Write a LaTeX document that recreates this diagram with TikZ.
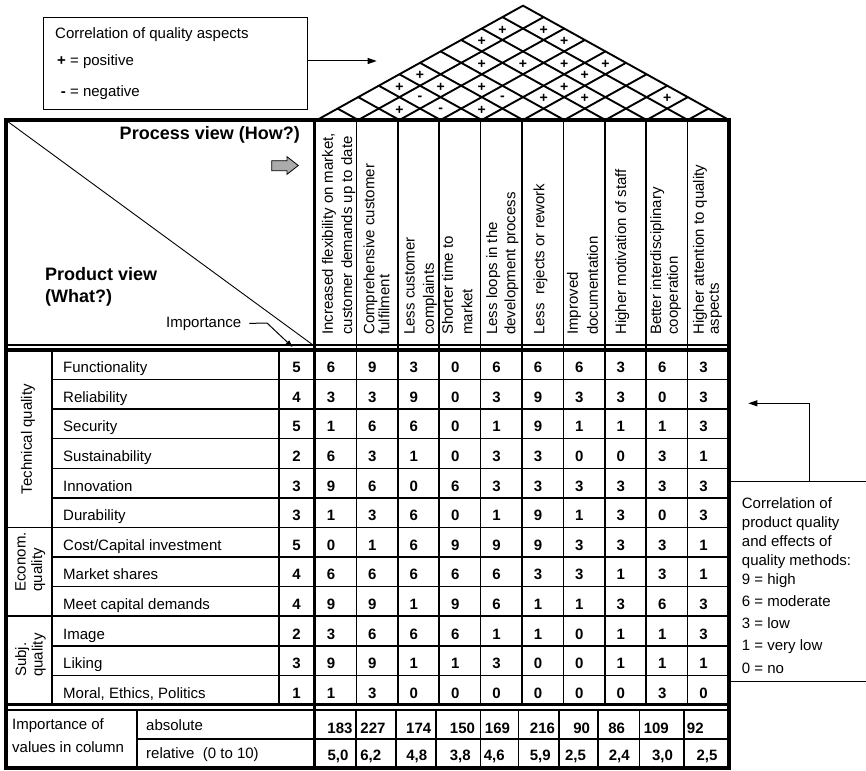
\documentclass[tikz,border=0pt]{standalone}
\usepackage{fontspec}
\setmainfont{Liberation Sans}
\usetikzlibrary{arrows.meta}

% 15pt Arial-metric text with a chosen line spacing
\newcommand{\fsz}[1]{\fontsize{15}{#1}\selectfont}

\begin{document}
\begin{tikzpicture}[x=1pt,y=-1pt,
  txt/.style={inner sep=0pt, font=\fsz{18}},
  lbl/.style={txt, anchor=base west},
  num/.style={inner sep=0pt, font=\fsz{18}\bfseries, anchor=base},
  bigbold/.style={inner sep=0pt, font=\fontsize{18}{22}\selectfont\bfseries},
  colhead/.style={inner sep=0pt, rotate=90, anchor=north west, align=left, font=\fsz{#1}},
  grouplbl/.style={inner sep=0pt, rotate=90, anchor=north west, align=left, font=\fsz{16.5}},
  corrsign/.style={inner sep=0pt, font=\fontsize{14}{16}\selectfont\bfseries},
  gridrule/.style={line width=1.5pt},
  heavyrule/.style={line width=3.6pt},
  roofrule/.style={line width=1.9pt, line cap=round, line join=round},
  pointer/.style={line width=1pt, -{Triangle[length=9pt,width=6pt]}},
]
\fill[white] (0,0) rectangle (866,770);
\useasboundingbox (0,0) rectangle (866,770);

% ---------- roof: correlations between the quality methods ----------
\foreach \k in {0,...,9} {
  \pgfmathsetmacro\bx{317+41.2*\k}
  \pgfmathsetmacro\ex{(\bx+729)/2}
  \pgfmathsetmacro\ey{120-0.555*(729-\bx)/2}
  \draw[roofrule] (\bx,120) -- (\ex,\ey);
}
\foreach \k in {1,...,10} {
  \pgfmathsetmacro\bx{317+41.2*\k}
  \pgfmathsetmacro\ex{(\bx+317)/2}
  \pgfmathsetmacro\ey{120-0.555*(\bx-317)/2}
  \draw[roofrule] (\bx,120) -- (\ex,\ey);
}
% sign in the rhombus shared by columns k and m
\foreach \k/\m/\s [count=\n] in {
  0/8/+, 1/9/+, 0/7/+, 2/9/+, 1/6/+, 2/7/+, 3/8/+, 4/9/+,
  0/4/+, 4/8/+, 0/3/+, 1/4/+, 2/5/+, 4/7/+, 1/3/-, 3/5/-,
  4/6/+, 5/7/+, 7/9/+, 1/2/+, 2/3/-, 3/4/+} {
  \pgfmathsetmacro\cx{317+20.6*(\k+\m+1)}
  \pgfmathsetmacro\cy{120-11.433*(\m-\k)+1.5}
  \node[corrsign] (sign\n) at (\cx,\cy) {\s};
}

% ---------- legend for the roof ----------
\node[draw, line width=1.1pt, inner sep=0pt, minimum width=264pt,
      minimum height=92.6pt, anchor=north west] (legendbox) at (42.7,16.7) {};
\node[lbl] (legtitle) at (55,39) {Correlation of quality aspects};
\node[lbl] (legpos) at (57,66) {\textbf{+} = positive};
\node[lbl] (legneg) at (57,97) {\makebox[0.584em][r]{\textbf{-}} = negative};
\coordinate (legtip) at (376.7,61);
\draw[pointer] (legendbox.east |- legtip) -- (legtip);

% ---------- table frame and rules ----------
\draw[heavyrule] (6,120) rectangle (729,768);
\draw[heavyrule] (314.5,120) -- (314.5,768);
\draw[gridrule] (6,345) -- (729,345);
\draw[heavyrule] (6,350) -- (729,350);
\draw[heavyrule] (6,704.5) -- (729,704.5);
\draw[line width=2pt] (6,709.5) -- (729,709.5);

% columns of the quality methods
\foreach \j in {1,...,9}
  \draw[gridrule] ({315+41.4*\j},120) -- ({315+41.4*\j},704.5);
% group and importance columns
\draw[gridrule] (52,350) -- (52,704.5);
\draw[gridrule] (279,350) -- (279,704.5);
% product-quality rows
\foreach \i in {1,...,11} {
  \pgfmathsetmacro\ry{350+29.58*\i}
  \ifnum\i=6 \def\rx{6}\else\ifnum\i=9 \def\rx{6}\else\def\rx{52}\fi\fi
  \draw[gridrule] (\rx,\ry) -- (729,\ry);
}

% ---------- corner cell ----------
\draw[line width=0.9pt] (7,121) -- (313,345);
\node[bigbold, anchor=base east] (howtitle) at (300,140) {Process view (How?)};
\filldraw[fill=black!33, line width=0.8pt, line join=miter]
  (271.7,160.7) -- (287,160.7) -- (287,156.7) -- (298.3,165.5)
  -- (287,174.3) -- (287,170.7) -- (271.7,170.7) -- cycle;
\node[bigbold, anchor=base west] (whattitle) at (45,280) {Product view};
\node[bigbold, anchor=base west] (whatq) at (45,302) {(What?)};
\node[lbl] (imptxt) at (166,327) {Importance};
\coordinate (impbend) at (267,323);
\coordinate (imptip) at (292.5,347);
\draw[line width=1pt, -{Triangle[length=7pt,width=5pt]}]
  ([xshift=8pt]imptxt.east) -- (impbend) -- (imptip);

% ---------- column headings (quality methods) ----------
\foreach \hx/\ls/\htxt [count=\j from 0] in {
  321.7/19.3/{Increased flexibility on market,\\customer demands up to date},
  363.3/15/{Comprehensive customer\\fulfilment},
  404/19.3/{Less customer\\complaints},
  441.7/19.5/{Shorter time to\\market},
  486/18.3/{Less loops in the\\development process},
  533.3/15/{Less~ rejects or rework},
  566.7/20/{Improved\\documentation},
  615/15/{Higher motivation of staff},
  650/16.7/{Better interdisciplinary\\cooperation},
  692.7/15/{Higher attention to quality\\aspects}} {
  \node[colhead=\ls] (how\j) at (\hx,335) {\htxt};
}

% ---------- group labels ----------
\node[txt, rotate=90] (grptech) at (28,439) {Technical quality};
\node[grouplbl] (grpecon) at (15,591.7) {Econom.\\quality};
\node[grouplbl] (grpsubj) at (15,677) {Subj.\\quality};

% ---------- rows: label / importance / correlation values ----------
\foreach \lab/\imp/\vals [count=\i from 0] in {
  Functionality/5/{6,9,3,0,6,6,6,3,6,3},
  Reliability/4/{3,3,9,0,3,9,3,3,0,3},
  Security/5/{1,6,6,0,1,9,1,1,1,3},
  Sustainability/2/{6,3,1,0,3,3,0,0,3,1},
  Innovation/3/{9,6,0,6,3,3,3,3,3,3},
  Durability/3/{1,3,6,0,1,9,1,3,0,3},
  {Cost/Capital investment}/5/{0,1,6,9,9,9,3,3,3,1},
  Market shares/4/{6,6,6,6,6,3,3,1,3,1},
  Meet capital demands/4/{9,9,1,9,6,1,1,3,6,3},
  Image/2/{3,6,6,6,1,1,0,1,1,3},
  Liking/3/{9,9,1,1,3,0,0,1,1,1},
  {Moral, Ethics, Politics}/1/{1,3,0,0,0,0,0,0,3,0}} {
  \pgfmathsetmacro\rowbase{350+29.58*\i+22.8}
  \node[lbl] (what\i) at (63,\rowbase) {\lab};
  \node[num] (imp\i) at (296.5,\rowbase) {\imp};
  \foreach \v [count=\j from 0] in \vals {
    \node[num] (cell\i-\j) at ({331+41.4*\j},\rowbase) {\v};
  }
}

% ---------- column totals ----------
\draw[gridrule] (137,709.5) -- (137,768);
\draw[gridrule] (137,739) -- (729,739);
\foreach \dx in {356,396,436,480.5,518.3,559,598,639.5,684}
  \draw[gridrule] (\dx,709.5) -- (\dx,768);
\node[lbl] (impof) at (12,729.5) {Importance of};
\node[lbl] (valcol) at (12,752.7) {values in column};
\node[lbl] (abslbl) at (146,730) {absolute};
\node[lbl] (rellbl) at (146,758) {relative~ (0 to 10)};
\foreach \ax/\av [count=\j from 0] in {340/183, 373/227, 418.7/174,
  462.5/150, 497.5/169, 542.5/216, 581.7/90, 616.7/86, 656.3/109, 695.3/92} {
  \node[num] (abs\j) at (\ax,733) {\av};
}
\foreach \rx/\rv [count=\j from 0] in {338/{5,0}, 370.8/{6,2}, 416.7/{4,8},
  460.3/{3,8}, 494.3/{4,6}, 540.3/{5,9}, 575.5/{2,5}, 619.2/{2,4},
  662.5/{3,0}, 707/{2,5}} {
  \node[num] (rel\j) at (\rx,760) {\rv};
}

% ---------- legend for the correlation values ----------
\draw[line width=1pt] (729,481.7) -- (866,481.7);
\draw[line width=1pt] (729,681.7) -- (866,681.7);
\node[txt, anchor=north west, align=left, font=\fsz{19}] (corrtitle) at (741.7,497.8)
  {Correlation of\\product quality\\and effects of\\quality methods:};
\node[txt, anchor=north west, align=left, font=\fsz{22.2}] (corrkey) at (741.7,573.3)
  {9 = high\\6 = moderate\\3 = low\\1 = very low\\0 = no};
\coordinate (corrstart) at (809.3,481.7);
\coordinate (corrtip) at (748.3,403.3);
\draw[pointer] (corrstart) |- (corrtip);
\end{tikzpicture}
\end{document}
